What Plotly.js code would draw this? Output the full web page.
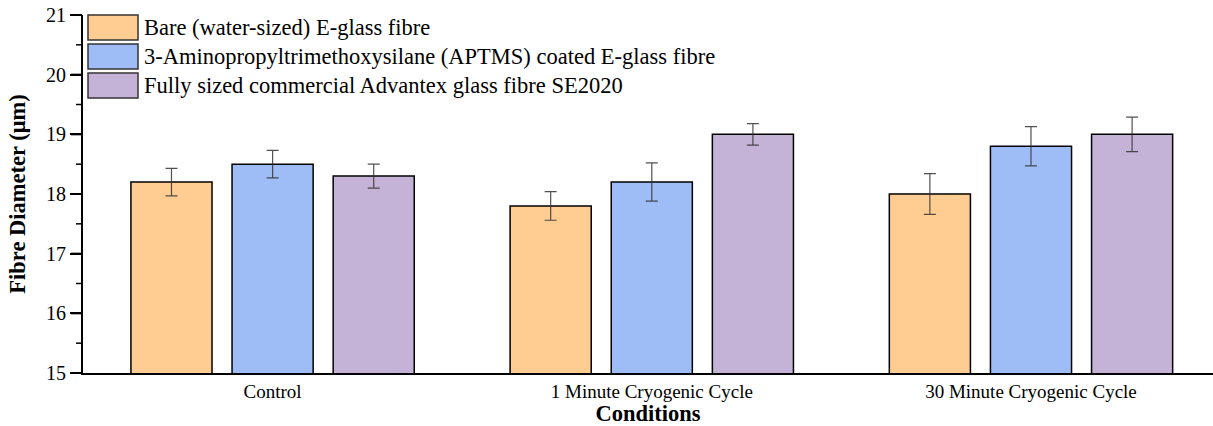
<!DOCTYPE html>
<html>
<head>
<meta charset="utf-8">
<script src="https://cdn.plot.ly/plotly-3.0.1.min.js"></script>
<style>html,body{margin:0;padding:0;background:#fff;}#chart{width:1213px;height:426px;}</style>
</head>
<body>
<div id="chart"></div>
<script>
const categories = ["Control", "1 Minute Cryogenic Cycle", "30 Minute Cryogenic Cycle"];
const seriesNames = [
  "Bare (water-sized) E-glass fibre",
  "3-Aminopropyltrimethoxysilane (APTMS) coated E-glass fibre",
  "Fully sized commercial Advantex glass fibre SE2020"
];
const bareValues = [18.2, 17.8, 18.0];
const bareErrors = [0.23, 0.24, 0.34];
const aptmsValues = [18.5, 18.2, 18.8];
const aptmsErrors = [0.23, 0.32, 0.33];
const advantexValues = [18.3, 19.0, 19.0];
const advantexErrors = [0.2, 0.18, 0.29];
const seriesColors = ["#FFCC91", "#9EBDF6", "#C5B3D7"];
const yTickValues = [15, 16, 17, 18, 19, 20, 21];

const valueSets = [bareValues, aptmsValues, advantexValues];
const errorSets = [bareErrors, aptmsErrors, advantexErrors];
const yMin = yTickValues[0], yMax = yTickValues[yTickValues.length - 1];

const traces = valueSets.map((vals, i) => ({
  type: "bar",
  name: seriesNames[i],
  x: categories,
  y: vals,
  marker: {color: seriesColors[i], line: {color: "#000", width: 1.5}},
  error_y: {type: "data", array: errorSets[i], visible: true, color: "rgba(50,50,50,0.85)", thickness: 1.2, width: 6},
  showlegend: false
}));

const font = "Liberation Serif, Times New Roman, serif";
const plotW = 1130;
const shapes = [];
const annotations = [];
const legX0 = 5 / plotW, legX1 = 55 / plotW;
seriesNames.forEach((n, i) => {
  const top = 1 - (0 + i * 29) / 358;
  const bot = 1 - (25 + i * 29) / 358;
  shapes.push({type: "rect", xref: "paper", yref: "paper", x0: legX0, x1: legX1, y0: bot, y1: top,
    fillcolor: seriesColors[i], line: {color: "#333", width: 1.5}});
  annotations.push({xref: "paper", yref: "paper", x: 59 / plotW, y: (top + bot) / 2, xanchor: "left", yanchor: "middle",
    text: n, showarrow: false, font: {family: font, size: 22.5, color: "#000"}});
});

// y-axis tick marks (major and half-step minor), placed from the tick values
const toPaper = v => (v - yMin) / (yMax - yMin);
yTickValues.forEach((v, k) => {
  shapes.push({type: "line", xref: "paper", yref: "paper", x0: -12 / plotW, x1: -1 / plotW, y0: toPaper(v), y1: toPaper(v),
    line: {color: "#000", width: 2}});
  if (k < yTickValues.length - 1) {
    const m = (v + yTickValues[k + 1]) / 2;
    shapes.push({type: "line", xref: "paper", yref: "paper", x0: -7 / plotW, x1: -1 / plotW, y0: toPaper(m), y1: toPaper(m),
      line: {color: "#000", width: 1.5}});
  }
});

const layout = {
  width: 1213, height: 426,
  margin: {l: 83, r: 0, t: 15, b: 53},
  barmode: "group", bargap: 0.2, bargroupgap: 0.198,
  xaxis: {
    type: "category", range: [-0.5, 2.48],
    showline: true, linecolor: "#000", linewidth: 2,
    ticks: "", showgrid: false, zeroline: false,
    tickfont: {family: font, size: 19, color: "#000"},
    title: {text: "<b>Conditions</b>", font: {family: font, size: 22.5, color: "#000"}, standoff: 4},
    automargin: false
  },
  yaxis: {
    range: [yMin, yMax], tickmode: "array", tickvals: yTickValues, ticktext: yTickValues.map(String),
    showline: true, linecolor: "#000", linewidth: 2,
    ticks: "outside", ticklen: 11, tickwidth: 2, tickcolor: "#000",
    showgrid: false, zeroline: false,
    tickfont: {family: font, size: 20, color: "#000"},
    title: {text: "<b>Fibre Diameter (μm)</b>", font: {family: font, size: 22.5, color: "#000"}, standoff: 14},
    automargin: false
  },
  shapes: shapes,
  annotations: annotations
};

Plotly.newPlot("chart", traces, layout, {displayModeBar: false, staticPlot: true});
</script>
</body>
</html>
